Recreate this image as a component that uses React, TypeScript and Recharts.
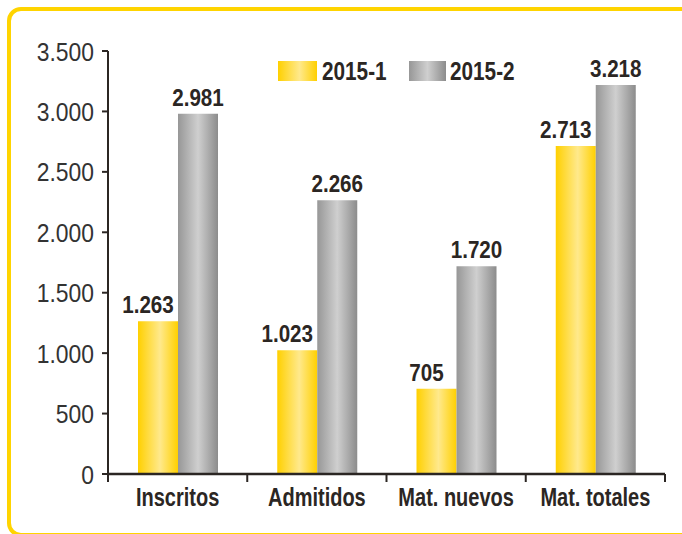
import React from "react";
import { BarChart, Bar, XAxis, YAxis, LabelList } from "recharts";

const CATEGORIES = ["Inscritos", "Admitidos", "Mat. nuevos", "Mat. totales"];
const SERIES_NAMES = ["2015-1", "2015-2"];
const SERIES_2015_1 = [1263, 1023, 705, 2713];
const SERIES_2015_2 = [2981, 2266, 1720, 3218];
const Y_TICKS = [0, 500, 1000, 1500, 2000, 2500, 3000, 3500];

const data = CATEGORIES.map((name, i) => ({
  name,
  s1: SERIES_2015_1[i],
  s2: SERIES_2015_2[i],
}));

const WIDTH = 682;
const HEIGHT = 534;
const LEFT = 108;
const RIGHT = 17;
const BAND = (WIDTH - LEFT - RIGHT) / CATEGORIES.length;
const INK = "#2b2623";
const FONT = '"Liberation Sans", Arial, sans-serif';

const fmt = (n: number) => String(n).replace(/\B(?=(\d{3})+(?!\d))/g, ".");

// narrow text: Liberation Sans squeezed horizontally to look like a condensed face
const Narrow = ({ x, y, size, bold, scale, anchor, fill, children }: any) => (
  <g transform={`translate(${x},${y}) scale(${scale},1)`}>
    <text
      x={0}
      y={0}
      textAnchor={anchor}
      fill={fill || INK}
      fontFamily={FONT}
      fontWeight={bold ? "bold" : "normal"}
      fontSize={size}
    >
      {children}
    </text>
  </g>
);

const CategoryTick = (props: any) => {
  const { x, y, payload, index } = props;
  const half = BAND / 2;
  return (
    <g>
      <line x1={x - half} y1={y} x2={x - half} y2={y + 8} stroke={INK} strokeWidth={2} />
      {index === CATEGORIES.length - 1 && (
        <line x1={x + half} y1={y} x2={x + half} y2={y + 8} stroke={INK} strokeWidth={2} />
      )}
      <Narrow x={x} y={y + 32} size={25} bold scale={0.8} anchor="middle">
        {payload.value}
      </Narrow>
    </g>
  );
};

const ValueTick = (props: any) => {
  const { x, y, payload } = props;
  return (
    <Narrow x={x} y={y + 9.5} size={26} scale={0.88} anchor="end" fill="#333">
      {fmt(payload.value)}
    </Narrow>
  );
};

const valueLabel = (dx: number) => (props: any) => {
  const { x, y, width, value } = props;
  return (
    <Narrow x={x + width / 2 + dx} y={y - 8} size={24} bold scale={0.86} anchor="middle">
      {fmt(value)}
    </Narrow>
  );
};

const LegendOverlay = () => (
  <svg width={WIDTH} height={HEIGHT} style={{ position: "absolute", left: 0, top: 0, pointerEvents: "none" }}>
    <defs>
      <linearGradient id="legYellow" x1="0" y1="0" x2="1" y2="0">
        <stop offset="0%" stopColor="#ffd000" />
        <stop offset="55%" stopColor="#ffe98c" />
        <stop offset="100%" stopColor="#ffd000" />
      </linearGradient>
      <linearGradient id="legGray" x1="0" y1="0" x2="1" y2="0">
        <stop offset="0%" stopColor="#979797" />
        <stop offset="50%" stopColor="#cfcfcf" />
        <stop offset="100%" stopColor="#8c8c8c" />
      </linearGradient>
    </defs>
    <rect x={278} y={61} width={39} height={20} fill="url(#legYellow)" />
    <Narrow x={322} y={80} size={25} bold scale={0.83} anchor="start">
      {SERIES_NAMES[0]}
    </Narrow>
    <rect x={409} y={61} width={37} height={20} fill="url(#legGray)" />
    <Narrow x={450} y={80} size={25} bold scale={0.83} anchor="start">
      {SERIES_NAMES[1]}
    </Narrow>
  </svg>
);

export default function App() {
  return (
    <div style={{ position: "absolute", left: 0, top: 0, width: WIDTH, height: HEIGHT, background: "#fff", overflow: "hidden" }}>
      <div
        style={{
          position: "absolute",
          left: 7,
          top: 7,
          width: 720,
          height: 530,
          border: "4px solid #ffd400",
          borderRadius: 14,
          boxSizing: "border-box",
        }}
      />
      <div style={{ position: "absolute", left: 0, top: 0 }}>
        <BarChart
          width={WIDTH}
          height={HEIGHT}
          data={data}
          margin={{ top: 51, right: RIGHT, left: 0, bottom: 20 }}
          barGap={0}
          barSize={40}
        >
          <defs>
            <linearGradient id="gradYellow" x1="0" y1="0" x2="1" y2="0">
              <stop offset="0%" stopColor="#ffd000" />
              <stop offset="55%" stopColor="#ffe98c" />
              <stop offset="100%" stopColor="#ffd000" />
            </linearGradient>
            <linearGradient id="gradGray" x1="0" y1="0" x2="1" y2="0">
              <stop offset="0%" stopColor="#979797" />
              <stop offset="50%" stopColor="#cfcfcf" />
              <stop offset="100%" stopColor="#8c8c8c" />
            </linearGradient>
          </defs>
          <XAxis
            dataKey="name"
            height={40}
            tickSize={0}
            tickMargin={0}
            tickLine={false}
            axisLine={{ stroke: INK, strokeWidth: 2.5 }}
            tick={<CategoryTick />}
            interval={0}
          />
          <YAxis
            width={LEFT}
            domain={[0, 3500]}
            ticks={Y_TICKS}
            interval={0}
            tickSize={6}
            tickMargin={8}
            axisLine={{ stroke: INK, strokeWidth: 2 }}
            tickLine={{ stroke: INK, strokeWidth: 2 }}
            tick={<ValueTick />}
          />
          <Bar dataKey="s1" name={SERIES_NAMES[0]} fill="url(#gradYellow)" isAnimationActive={false}>
            <LabelList dataKey="s1" content={valueLabel(-10)} />
          </Bar>
          <Bar dataKey="s2" name={SERIES_NAMES[1]} fill="url(#gradGray)" isAnimationActive={false}>
            <LabelList dataKey="s2" content={valueLabel(0)} />
          </Bar>
        </BarChart>
      </div>
      <LegendOverlay />
    </div>
  );
}
